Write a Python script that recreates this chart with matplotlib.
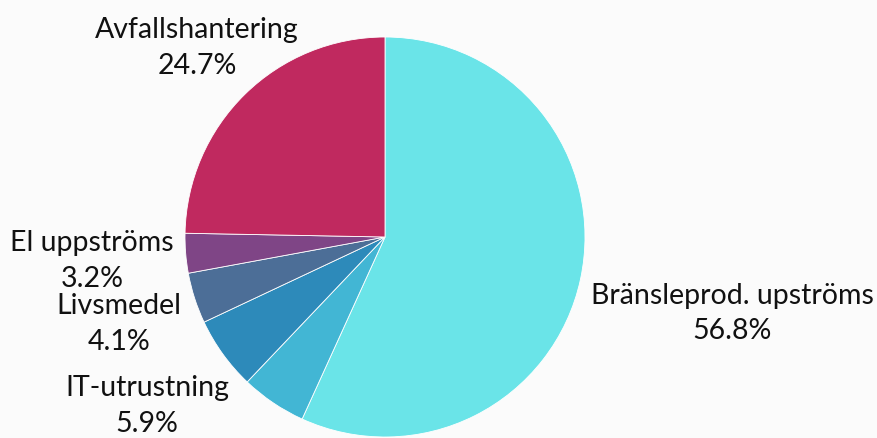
import matplotlib
matplotlib.use("Agg")
import matplotlib.pyplot as plt

# Emission shares by source (percent), clockwise from 12 o'clock
categories = ["Bränsleprod. upströms", "Övrigt", "IT-utrustning", "Livsmedel", "El uppströms", "Avfallshantering"]
shares = [56.8, 5.3, 5.9, 4.1, 3.2, 24.7]
show_label = [True, False, True, True, True, True]
colors = ["#6ae4e8", "#42b6d4", "#2d8aba", "#4c6e97", "#7f4586", "#c0295f"]

# Label block centres, in pie-radius units
label_pos = {
    "Bränsleprod. upströms": (1.735, -0.378),
    "IT-utrustning": (-1.19, -0.84),
    "Livsmedel": (-1.33, -0.43),
    "El uppströms": (-1.465, -0.115),
    "Avfallshantering": (-0.94, 0.95),
}

bg = "#fbfbfb"
W, H = 878, 439
fig = plt.figure(figsize=(W / 100, H / 100), dpi=100, facecolor=bg)
cx, cy, r = 385, 238, 200
ax = fig.add_axes([(cx - r) / W, (H - cy - r) / H, 2 * r / W, 2 * r / H])
ax.set_facecolor(bg)

ax.pie(shares, colors=colors, startangle=90, counterclock=False, radius=1,
       wedgeprops=dict(edgecolor="white", linewidth=0.6))
ax.set_xlim(-1, 1)
ax.set_ylim(-1, 1)
ax.set_aspect("equal")
ax.axis("off")

total = sum(shares)
for name, val, show in zip(categories, shares, show_label):
    if not show:
        continue
    x, y = label_pos[name]
    ax.text(x, y, f"{name}\n{val / total * 100:.1f}%", ha="center", va="center",
            multialignment="center", fontsize=20.5, family="Lato", color="#111111",
            linespacing=1.45, clip_on=False)

fig.savefig("out.png", dpi=100, facecolor=bg)
